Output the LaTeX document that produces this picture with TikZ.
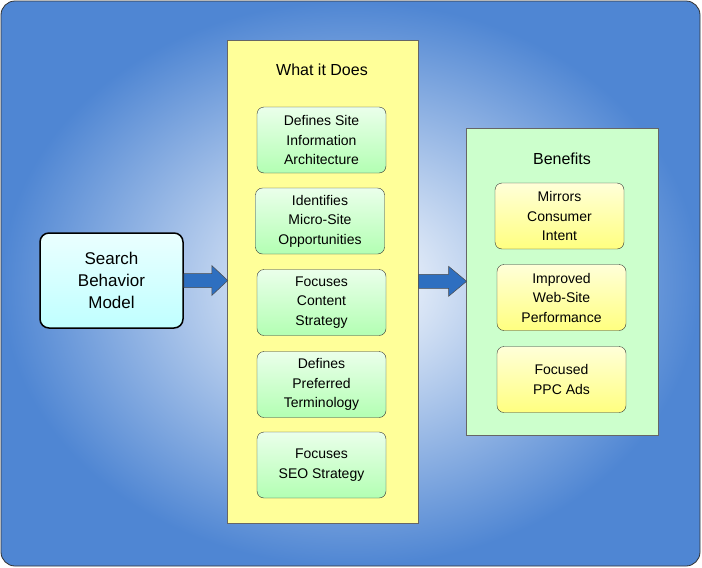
\documentclass[tikz,border=0pt]{standalone}
\usepackage{fontspec}
\setmainfont{Liberation Sans}
\usetikzlibrary{calc}
\definecolor{bgblue}{HTML}{4F86D3}
\definecolor{panY}{HTML}{FFFF99}
\definecolor{panG}{HTML}{CCFFCC}
\definecolor{arr}{HTML}{2E6FC0}
\begin{document}
\begin{tikzpicture}[x=1pt,y=-1pt,
  panel/.style={draw=black!60,line width=0.6pt},
  gbox/.style={draw=black!80,rounded corners=7pt,top color=green!8,bottom color=green!30!white,minimum width=129pt,minimum height=66pt,align=center,font=\fontsize{14}{19.5}\selectfont},
  ybox/.style={draw=black!80,rounded corners=7pt,top color=yellow!15,bottom color=yellow!50,minimum width=129pt,minimum height=66pt,align=center,font=\fontsize{14}{19.5}\selectfont},
  barr/.style={draw=black!70,fill=arr,line width=0.5pt}]
\useasboundingbox (0,0) rectangle (702,568);
\shade[inner color=white,outer color=bgblue,draw=black!80,rounded corners=14pt,line width=0.8pt] (1,1) rectangle (700,566);
\node[draw=black,line width=1.5pt,rounded corners=9pt,top color=cyan!8,bottom color=cyan!25,minimum width=143pt,minimum height=95pt,align=center,font=\fontsize{17}{22}\selectfont] (sbm) at (111.5,280.5) {Search\\Behavior\\Model};
\node[panel,fill=panY,minimum width=191pt,minimum height=483pt,anchor=north west] (wid) at (227,40) {};
\node[font=\fontsize{16}{19}\selectfont] (widt) at (322,70) {What it Does};
\node[gbox] (g1) at (321.5,140) {Defines Site\\Information\\Architecture};
\node[gbox] (g2) at (320,221) {Identifies\\Micro-Site\\Opportunities};
\node[gbox] (g3) at (321.5,302.5) {Focuses\\Content\\Strategy};
\node[gbox] (g4) at (321.5,384.5) {Defines\\Preferred\\Terminology};
\node[gbox] (g5) at (321.5,465) {Focuses\\SEO Strategy};
\node[panel,fill=panG,minimum width=192pt,minimum height=307pt,anchor=north west] (ben) at (466,128) {};
\node[font=\fontsize{16}{19}\selectfont] (bent) at (562,159) {Benefits};
\node[ybox] (y1) at (559.5,216) {Mirrors\\Consumer\\Intent};
\node[ybox] (y2) at (561.5,297.5) {Improved\\Web-Site\\Performance};
\node[ybox] (y3) at (561.5,379.5) {Focused\\PPC Ads};
\coordinate (a1) at (sbm.east);
\draw[barr] ($(a1)+(0,-7)$) -- ++(28,0) -- ++(0,-8) -- ($(a1)+(44,0)$) -- ($(a1)+(28,15)$) -- ++(0,-8) -- ($(a1)+(0,7)$) -- cycle;
\coordinate (a2) at ([yshift=0.5pt]wid.east);
\draw[barr] ($(a2)+(0,-7)$) -- ++(30,0) -- ++(0,-8) -- ($(a2)+(48,0)$) -- ($(a2)+(30,15)$) -- ++(0,-8) -- ($(a2)+(0,7)$) -- cycle;
\end{tikzpicture}
\end{document}
